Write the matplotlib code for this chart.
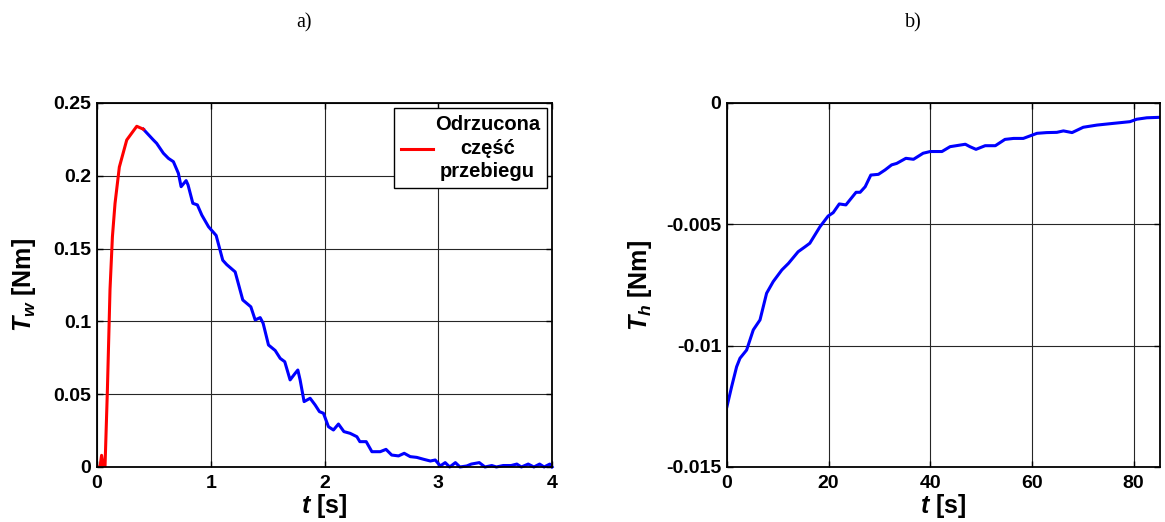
import matplotlib
matplotlib.use("Agg")
import matplotlib.pyplot as plt

plt.rcParams['font.family'] = ['Liberation Sans', 'DejaVu Sans']
plt.rcParams['font.weight'] = 'bold'
plt.rcParams['axes.labelweight'] = 'bold'
plt.rcParams['axes.unicode_minus'] = False
plt.rcParams['mathtext.fontset'] = 'custom'
plt.rcParams['mathtext.it'] = 'Liberation Sans:bold:italic'
plt.rcParams['mathtext.rm'] = 'Liberation Sans:bold'

# a) wheel torque, rejected part (red) then the rest (blue)
t_rej = [0.0, 0.026, 0.04, 0.055, 0.07, 0.091, 0.114, 0.135, 0.158, 0.196,
         0.261, 0.349, 0.407]
tw_rej = [0.0, 0.0, 0.008, 0.0, 0.0, 0.053, 0.122, 0.158, 0.181, 0.206,
          0.2246, 0.234, 0.232]

t_ok = [0.407, 0.495, 0.524, 0.583, 0.627, 0.671, 0.715, 0.739, 0.783, 0.80,
        0.842, 0.882, 0.921, 0.98, 1.047, 1.105, 1.14, 1.214, 1.281, 1.352,
        1.39, 1.434, 1.46, 1.507, 1.566, 1.61, 1.65, 1.697, 1.741, 1.765,
        1.785, 1.82, 1.873, 1.917, 1.955, 1.99, 2.034, 2.078, 2.122, 2.17,
        2.225, 2.284, 2.31, 2.366, 2.416, 2.489, 2.54, 2.59, 2.65, 2.70,
        2.753, 2.81, 2.87, 2.93, 2.973, 3.017, 3.06, 3.1, 3.15, 3.19,
        3.25, 3.29, 3.36, 3.41, 3.47, 3.51, 3.57, 3.64, 3.69, 3.73,
        3.79, 3.84, 3.89, 3.93, 3.98, 4.0]
tw_ok = [0.232, 0.2246, 0.2223, 0.2155, 0.212, 0.2097, 0.2017, 0.1925, 0.1967, 0.1937,
         0.1811, 0.18, 0.173, 0.165, 0.159, 0.142, 0.139, 0.134, 0.1147, 0.110,
         0.101, 0.1026, 0.0987, 0.0838, 0.080, 0.0746, 0.0723, 0.0598, 0.0643, 0.0666,
         0.0598, 0.0449, 0.0472, 0.0426, 0.038, 0.0369, 0.0277, 0.0254, 0.0295, 0.0243,
         0.0231, 0.0208, 0.0174, 0.0174, 0.0105, 0.0105, 0.0121, 0.0082, 0.0076, 0.0094,
         0.0071, 0.0066, 0.0053, 0.0041, 0.0048, 0.0007, 0.003, 0.0, 0.003, 0.0,
         0.0007, 0.002, 0.003, 0.0, 0.001, 0.0, 0.001, 0.001, 0.002, 0.0,
         0.002, 0.0, 0.002, 0.0, 0.002, 0.0]

# b) Th over long time
t_h = [0.0, 0.92, 1.9, 2.56, 3.87, 5.18, 6.5, 7.8, 9.1, 10.8,
       12.1, 14.0, 15.4, 16.3, 18.3, 19.9, 20.9, 22.1, 23.4, 25.4,
       26.2, 27.2, 28.3, 29.8, 31.1, 32.4, 33.4, 35.2, 36.7, 38.6,
       40.0, 42.3, 43.9, 46.9, 47.8, 49.0, 50.8, 52.8, 54.7, 56.4,
       58.3, 61.0, 62.9, 64.9, 66.2, 67.9, 70.1, 72.8, 76.0, 79.3,
       80.6, 82.6, 85.2]
th = [-12.51, -11.69, -10.87, -10.52, -10.18, -9.35, -8.94, -7.84, -7.36, -6.88,
      -6.61, -6.13, -5.92, -5.78, -5.10, -4.66, -4.52, -4.16, -4.20, -3.68,
      -3.68, -3.45, -2.97, -2.94, -2.76, -2.55, -2.49, -2.28, -2.32, -2.07,
      -2.0, -2.0, -1.80, -1.70, -1.80, -1.91, -1.76, -1.76, -1.50, -1.46,
      -1.46, -1.25, -1.22, -1.21, -1.15, -1.22, -1.0, -0.91, -0.84, -0.77,
      -0.67, -0.61, -0.59]
th = [v * 1e-3 for v in th]

yticks_a = [0, 0.05, 0.1, 0.15, 0.2, 0.25]
ylabels_a = ['0', '0.05', '0.1', '0.15', '0.2', '0.25']
xticks_a = [0, 1, 2, 3, 4]
yticks_b = [-0.015, -0.01, -0.005, 0]
ylabels_b = ['-0.015', '-0.01', '-0.005', '0']
xticks_b = [0, 20, 40, 60, 80]

fig = plt.figure(figsize=(11.65, 5.22), dpi=100)
ax1 = fig.add_axes([0.0833, 0.1054, 0.3906, 0.6973])
ax2 = fig.add_axes([0.624, 0.1054, 0.3717, 0.6973])


def style(ax):
    ax.grid(True, color='0.15', linewidth=0.8)
    ax.set_axisbelow(True)
    ax.tick_params(direction='in', top=True, right=True, length=4, width=1,
                   labelsize=14)
    ax.tick_params(axis='x', pad=6)
    ax.tick_params(axis='y', pad=4)
    for s in ax.spines.values():
        s.set_linewidth(1.3)


ax1.plot(t_ok, tw_ok, color='blue', linewidth=2.2, clip_on=False)
ax1.plot(t_rej, tw_rej, color='red', linewidth=2.2, label='Odrzucona\nczęść\nprzebiegu')
ax1.set_xlim(0, 4)
ax1.set_ylim(0, 0.25)
ax1.set_xticks(xticks_a)
ax1.set_yticks(yticks_a)
ax1.set_yticklabels(ylabels_a)
style(ax1)
ax1.set_xlabel(r'$t$ [s]', fontsize=18, labelpad=0)
ax1.set_ylabel(r'$T_w$ [Nm]', fontsize=18, labelpad=11)
leg = ax1.legend(loc='upper right', fontsize=14.5, fancybox=False, framealpha=1,
                 edgecolor='black', borderaxespad=0.25, handlelength=1.6,
                 borderpad=0.35, handletextpad=0.1)
leg.get_frame().set_linewidth(1.0)
for txt in leg.get_texts():
    txt.set_multialignment('center')
    txt.set_linespacing(1.3)

ax2.plot(t_h, th, color='blue', linewidth=2.2)
ax2.set_xlim(0, 85.2)
ax2.set_ylim(-0.015, 0)
ax2.set_xticks(xticks_b)
ax2.set_yticks(yticks_b)
ax2.set_yticklabels(ylabels_b)
style(ax2)
ax2.set_xlabel(r'$t$ [s]', fontsize=18, labelpad=0)
ax2.set_ylabel(r'$T_h$ [Nm]', fontsize=18, labelpad=9)

fig.text(304 / 1165, 1 - 23 / 522, 'a)', fontsize=14.5, family='Liberation Serif',
         fontweight='normal', ha='center', va='center')
fig.text(913 / 1165, 1 - 23 / 522, 'b)', fontsize=14.5, family='Liberation Serif',
         fontweight='normal', ha='center', va='center')

fig.savefig('out.png', dpi=100)
